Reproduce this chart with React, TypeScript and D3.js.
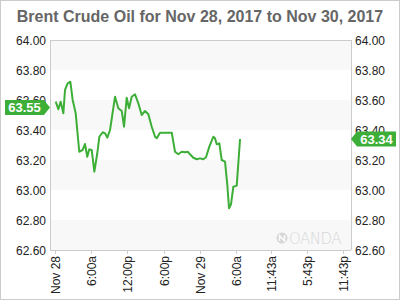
import React from "react";
import * as d3 from "d3";

const title = "Brent Crude Oil for Nov 28, 2017 to Nov 30, 2017";
// hours since Nov 28 00:00
const hours = [0.12,0.55,0.94,1.38,1.66,2.10,2.54,2.93,3.43,4.02,4.59,4.97,5.35,5.69,6.08,6.52,7.01,7.35,7.91,8.29,8.67,9.12,9.95,10.49,11.06,11.44,11.88,12.27,12.71,13.26,13.81,14.37,14.92,15.47,16.03,16.58,16.86,17.41,19.35,19.89,20.44,21.00,21.55,22.00,22.38,22.93,23.49,24.03,24.58,25.03,25.58,26.24,26.52,26.80,27.24,27.63,28.18,28.56,28.84,29.17,29.56,30.12,30.67];
const prices = [63.589,63.538,63.589,63.511,63.667,63.711,63.722,63.600,63.511,63.255,63.267,63.307,63.222,63.271,63.267,63.122,63.245,63.355,63.385,63.378,63.349,63.400,63.622,63.545,63.527,63.422,63.615,63.545,63.622,63.638,63.578,63.500,63.527,63.505,63.422,63.355,63.345,63.382,63.382,63.255,63.238,63.255,63.251,63.255,63.238,63.215,63.205,63.211,63.205,63.218,63.289,63.355,63.345,63.305,63.311,63.200,63.189,63.033,62.878,62.905,63.022,63.029,63.34];
const yTicks = [64.0, 63.8, 63.6, 63.4, 63.2, 63.0, 62.8, 62.6];
const xTickHours = [0, 6, 12, 18, 24, 30, 35.72, 41.72, 47.72];
const xTickLabels = ["Nov 28", "6:00a", "12:00p", "6:00p", "Nov 29", "6:00a", "11:43a", "5:43p", "11:43p"];
const openPrice = 63.55;
const lastPrice = 63.34;

const GREEN = "#3dae37";
const FONT = "'Liberation Sans', Arial, sans-serif";

export default function App() {
  const left = 50, right = 351, top = 40, bottom = 250;
  const x = d3.scaleLinear().domain([-0.83, 49.06]).range([left, right]);
  const y = d3.scaleLinear().domain([62.6, 64.0]).range([bottom, top]);
  const line = d3.line<number>().x((_, i) => x(hours[i])).y((d) => y(d));
  const bands = [];
  for (let i = 0; i < yTicks.length - 1; i += 2) {
    bands.push([yTicks[i], yTicks[i + 1]]);
  }
  const tag = (px: number, py: number, dir: "left" | "right", label: string) => {
    const h = 15, w = 39, a = 6;
    let d: string;
    let tx: number;
    if (dir === "right") {
      d = `M${px},${py} L${px - a},${py - h / 2} L${px - a - w},${py - h / 2} L${px - a - w},${py + h / 2} L${px - a},${py + h / 2} Z`;
      tx = px - a - w / 2;
    } else {
      d = `M${px},${py} L${px + a},${py - h / 2} L${px + a + w},${py - h / 2} L${px + a + w},${py + h / 2} L${px + a},${py + h / 2} Z`;
      tx = px + a + w / 2;
    }
    return (
      <g>
        <path d={d} fill={GREEN} />
        <text x={tx} y={py + 4.5} textAnchor="middle" fill="#fff" fontWeight="bold" fontSize={13} fontFamily={FONT}>{label}</text>
      </g>
    );
  };
  return (
    <svg width={400} height={300} style={{ position: "absolute", left: 0, top: 0 }}>
      <rect x={0.5} y={0.5} width={399} height={299} fill="#fff" stroke="#ccc" />
      <text x={200} y={22} textAnchor="middle" fontSize={16} fontWeight="bold" fill="#666" fontFamily={FONT}>{title}</text>
      {bands.map(([a, b], i) => (
        <rect key={i} x={left} y={y(a)} width={right - left} height={y(b) - y(a)} fill="#f8f8f8" />
      ))}
      <g opacity={0.55}>
        <circle cx={282} cy={238} r={5.5} fill="#bbb" />
        <path d="M279.5,241 L279.5,235.5 L284.5,241 L284.5,235" stroke="#fff" strokeWidth={1.6} fill="none" />
        <text x={289} y={243.5} fontSize={15} fill="#bbb" fontFamily="'DejaVu Sans', sans-serif" fontWeight={300} letterSpacing={-0.5}>OANDA</text>
      </g>
      <line x1={left} x2={right} y1={top + 0.5} y2={top + 0.5} stroke="#ccc" />
      <line x1={left + 0.5} x2={left + 0.5} y1={top} y2={bottom} stroke="#ccc" />
      <line x1={right + 0.5} x2={right + 0.5} y1={top} y2={bottom} stroke="#ccc" />
      <line x1={left} x2={right} y1={bottom + 0.5} y2={bottom + 0.5} stroke="#ccc" />
      {yTicks.map((t) => (
        <g key={t}>
          <text x={46} y={y(t) + 4.5} textAnchor="end" fontSize={12} fill="#222" fontFamily={FONT}>{t.toFixed(2)}</text>
          <text x={355} y={y(t) + 4.5} textAnchor="start" fontSize={12} fill="#222" fontFamily={FONT}>{t.toFixed(2)}</text>
        </g>
      ))}
      {xTickHours.map((h, i) => (
        <g key={i} transform={`translate(${Math.round(x(h)) + 0.5},${bottom})`}>
          <line y1={0} y2={4} stroke="#ccc" />
          <text transform="rotate(-90)" x={-6} y={4.5} textAnchor="end" fontSize={12} fill="#222" fontFamily={FONT}>{xTickLabels[i]}</text>
        </g>
      ))}
      <path d={line(prices) || ""} fill="none" stroke={GREEN} strokeWidth={2} strokeLinejoin="round" />
      {tag(left, y(openPrice), "right", openPrice.toFixed(2))}
      {tag(right, y(lastPrice), "left", lastPrice.toFixed(2))}
    </svg>
  );
}
